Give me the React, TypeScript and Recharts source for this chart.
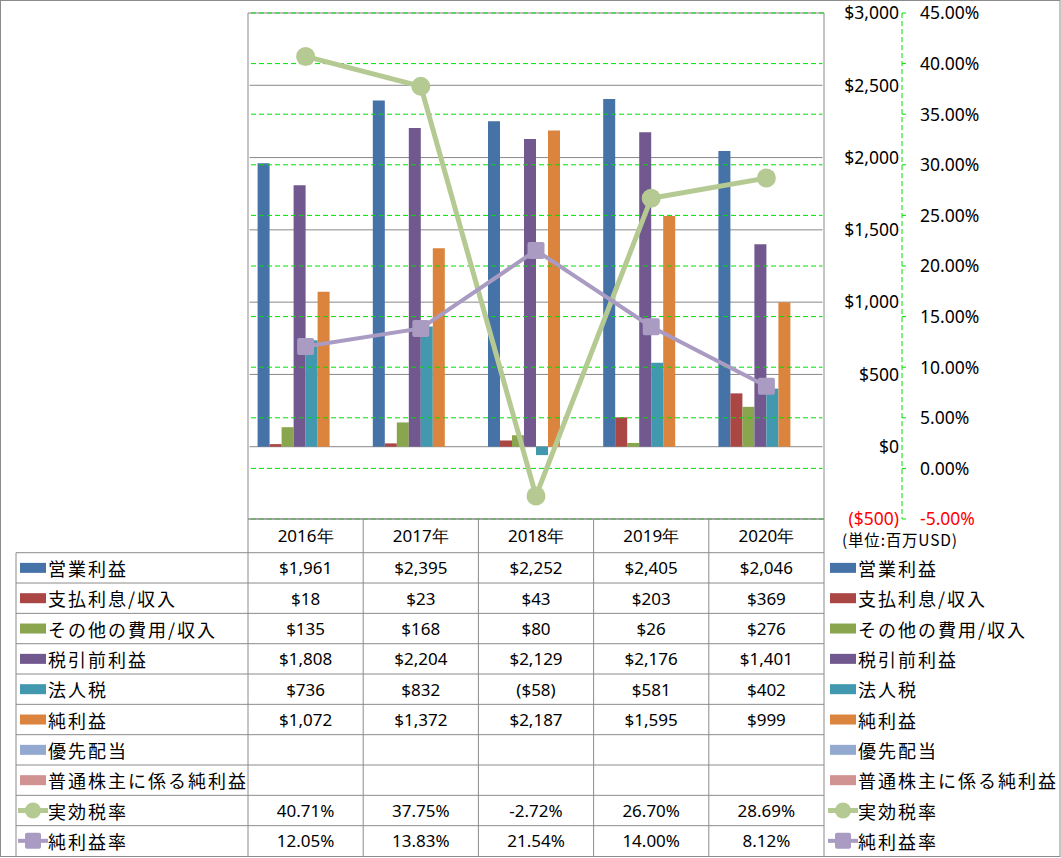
import { ComposedChart, Bar, Line, XAxis, YAxis, CartesianGrid, ReferenceLine } from 'recharts';

const YEARS = ['2016年', '2017年', '2018年', '2019年', '2020年'];
const OPERATING_INCOME = [1961, 2395, 2252, 2405, 2046];
const INTEREST = [18, 23, 43, 203, 369];
const OTHER_EXPENSE = [135, 168, 80, 26, 276];
const PRETAX_INCOME = [1808, 2204, 2129, 2176, 1401];
const INCOME_TAX = [736, 832, -58, 581, 402];
const NET_INCOME = [1072, 1372, 2187, 1595, 999];
const PREFERRED_DIV: (number | null)[] = [null, null, null, null, null];
const NET_TO_COMMON: (number | null)[] = [null, null, null, null, null];
const EFFECTIVE_TAX_RATE = [40.71, 37.75, -2.72, 26.7, 28.69];
const NET_MARGIN = [12.05, 13.83, 21.54, 14.0, 8.12];

const USD_TICKS = [-500, 0, 500, 1000, 1500, 2000, 2500, 3000];
const PCT_TICKS = [-5, 0, 5, 10, 15, 20, 25, 30, 35, 40, 45];

type Series = {
  key: string;
  name: string;
  color: string;
  kind: 'bar' | 'line';
  values: (number | null)[];
};

const SERIES: Series[] = [
  { key: 'op', name: '営業利益', color: '#4572A7', kind: 'bar', values: OPERATING_INCOME },
  { key: 'int', name: '支払利息/収入', color: '#AA4643', kind: 'bar', values: INTEREST },
  { key: 'oth', name: 'その他の費用/収入', color: '#89A54E', kind: 'bar', values: OTHER_EXPENSE },
  { key: 'pre', name: '税引前利益', color: '#71588F', kind: 'bar', values: PRETAX_INCOME },
  { key: 'tax', name: '法人税', color: '#4198AF', kind: 'bar', values: INCOME_TAX },
  { key: 'net', name: '純利益', color: '#DB843D', kind: 'bar', values: NET_INCOME },
  { key: 'pref', name: '優先配当', color: '#93A9CF', kind: 'bar', values: PREFERRED_DIV },
  { key: 'common', name: '普通株主に係る純利益', color: '#D19392', kind: 'bar', values: NET_TO_COMMON },
  { key: 'etr', name: '実効税率', color: '#B5CA92', kind: 'line', values: EFFECTIVE_TAX_RATE },
  { key: 'npm', name: '純利益率', color: '#A99BC2', kind: 'line', values: NET_MARGIN },
];

const data = YEARS.map((year, i) => {
  const row: Record<string, string | number | null> = { year };
  SERIES.forEach((s) => {
    row[s.key] = s.values[i];
  });
  return row;
});

// layout
const W = 1061;
const H = 858;
const PLOT_LEFT = 248;
const PLOT_TOP = 13;
const PLOT_WIDTH = 576;
const PLOT_BOTTOM = 519;
const USD_AXIS_W = 78;
const PCT_AXIS_W = 100;
const CHART_H = 545;
const HEADER_H = 33.7;
const ROW_H = 30.33;
const LABEL_LEFT = 16;
const GRID_GRAY = '#888888';
const GRID_GREEN = '#00E000';
const BORDER = '#8C8C8C';

const NUM_FONT = '"Noto Sans", "Open Sans", sans-serif';
const JP_FONT = '"Noto Sans CJK JP", "Noto Sans", sans-serif';

const fmtUsd = (v: number) =>
  v < 0 ? `($${Math.abs(v).toLocaleString('en-US')})` : `$${v.toLocaleString('en-US')}`;
const fmtPct = (v: number) => `${v.toFixed(2)}%`;

function UsdTick(props: any) {
  const { x, y, payload } = props;
  const v = payload.value as number;
  return (
    <text
      x={x + USD_AXIS_W - 3}
      y={y}
      dy="0.36em"
      textAnchor="end"
      fill={v < 0 ? '#FF0000' : '#000000'}
      style={{ fontSize: 17.5, fontFamily: NUM_FONT }}
    >
      {fmtUsd(v)}
    </text>
  );
}

function PctTick(props: any) {
  const { x, y, payload } = props;
  const v = payload.value as number;
  return (
    <text
      x={x}
      y={y}
      dy="0.36em"
      textAnchor="start"
      fill={v < 0 ? '#FF0000' : '#000000'}
      style={{ fontSize: 17.5, fontFamily: NUM_FONT }}
    >
      {fmtPct(v)}
    </text>
  );
}

function CircleDot(props: any) {
  const { cx, cy, value, index } = props;
  if (value == null || cx == null) return <g key={`c-${index}`} />;
  return <circle key={`c-${index}`} cx={cx} cy={cy} r={9.5} fill="#B5CA92" />;
}

function SquareDot(props: any) {
  const { cx, cy, value, index } = props;
  if (value == null || cx == null) return <g key={`s-${index}`} />;
  return <rect key={`s-${index}`} x={cx - 8.5} y={cy - 8.5} width={17} height={17} rx={2} fill="#A99BC2" />;
}

function LegendKey({ s, x, y }: { s: Series; x: number; y: number }) {
  if (s.kind === 'bar') {
    return <rect x={x} y={y - 5} width={26} height={10} fill={s.color} />;
  }
  return (
    <g>
      <line x1={x - 2} y1={y} x2={x + 28} y2={y} stroke={s.color} strokeWidth={s.key === 'etr' ? 5 : 4} />
      {s.key === 'etr' ? (
        <circle cx={x + 13} cy={y} r={8} fill={s.color} />
      ) : (
        <rect x={x + 5} y={y - 8} width={16} height={16} rx={2} fill={s.color} />
      )}
    </g>
  );
}

function DataTable() {
  const colW = PLOT_WIDTH / YEARS.length;
  const colX = YEARS.map((_, i) => PLOT_LEFT + i * colW);
  const tableTop = PLOT_BOTTOM;
  const bodyTop = tableTop + HEADER_H;
  const bottom = bodyTop + SERIES.length * ROW_H;
  const right = PLOT_LEFT + PLOT_WIDTH;
  const jpStyle = { fontSize: 18, fontFamily: JP_FONT, letterSpacing: '2px' };
  const numStyle = { fontSize: 17, fontFamily: NUM_FONT };

  return (
    <svg width={W} height={H} style={{ position: 'absolute', left: 0, top: 0, pointerEvents: 'none' }}>
      {/* outer chart border */}
      <rect x={0.5} y={0.5} width={W - 1.5} height={bottom} fill="none" stroke={BORDER} />
      {/* plot area side borders, cleared underneath first */}
      {[PLOT_LEFT, right].map((x) => (
        <g key={`side-${x}`}>
          <line x1={x} x2={x} y1={PLOT_TOP + 1} y2={tableTop - 1} stroke="#ffffff" strokeWidth={3} />
          <line x1={x} x2={x} y1={PLOT_TOP} y2={tableTop} stroke={BORDER} />
        </g>
      ))}
      {/* header row */}
      <line x1={PLOT_LEFT} y1={tableTop} x2={right} y2={tableTop} stroke={BORDER} />
      {/* row lines */}
      {SERIES.map((_, i) => (
        <line
          key={`h-${i}`}
          x1={LABEL_LEFT}
          x2={right}
          y1={bodyTop + i * ROW_H}
          y2={bodyTop + i * ROW_H}
          stroke={BORDER}
        />
      ))}
      <line x1={LABEL_LEFT} y1={bodyTop} x2={LABEL_LEFT} y2={bottom} stroke={BORDER} />
      {[...colX, right].map((x, i) => (
        <line key={`v-${i}`} x1={x} x2={x} y1={tableTop} y2={bottom} stroke={BORDER} />
      ))}

      {YEARS.map((y, i) => (
        <text
          key={`yr-${i}`}
          x={colX[i] + colW / 2}
          y={tableTop + HEADER_H / 2}
          textAnchor="middle"
          dominantBaseline="central"
          style={numStyle}
        >
          {y}
        </text>
      ))}

      {SERIES.map((s, r) => {
        const cy = bodyTop + r * ROW_H + ROW_H / 2;
        return (
          <g key={`row-${s.key}`}>
            <LegendKey s={s} x={20} y={cy} />
            <text x={48} y={cy} dominantBaseline="central" style={jpStyle}>
              {s.name}
            </text>
            {s.values.map((v, i) =>
              v == null ? null : (
                <text
                  key={`val-${i}`}
                  x={colX[i] + colW / 2}
                  y={cy}
                  textAnchor="middle"
                  dominantBaseline="central"
                  style={numStyle}
                >
                  {s.kind === 'line' ? fmtPct(v) : fmtUsd(v)}
                </text>
              ),
            )}
            <LegendKey s={s} x={830} y={cy} />
            <text x={858} y={cy} dominantBaseline="central" style={jpStyle}>
              {s.name}
            </text>
          </g>
        );
      })}

      <text
        x={842}
        y={tableTop + 20}
        dominantBaseline="central"
        style={{ fontSize: 15.5, fontFamily: JP_FONT, letterSpacing: '0.8px' }}
      >
        (単位:百万USD)
      </text>
    </svg>
  );
}

export default function App() {
  const bars = SERIES.filter((s) => s.kind === 'bar');
  const rightMargin = W - PLOT_LEFT - PLOT_WIDTH - USD_AXIS_W - PCT_AXIS_W;
  return (
    <div style={{ position: 'absolute', left: 0, top: 0, width: W, height: H, background: '#fff' }}>
      <div style={{ position: 'absolute', left: 0, top: 0 }}>
        <ComposedChart
          width={W}
          height={CHART_H}
          data={data}
          margin={{ top: PLOT_TOP, left: PLOT_LEFT, right: rightMargin, bottom: CHART_H - PLOT_BOTTOM }}
          barCategoryGap="8.333%"
          barGap={0}
        >
          <XAxis dataKey="year" hide />
          <YAxis
            yAxisId="b_pct"
            orientation="right"
            width={PCT_AXIS_W}
            domain={[-5, 45]}
            ticks={PCT_TICKS}
            axisLine={{ stroke: GRID_GREEN, strokeDasharray: '5 3' }}
            tickLine={{ stroke: GRID_GREEN }}
            tickSize={4}
            tickMargin={14}
            tick={<PctTick />}
            interval={0}
          />
          <YAxis
            yAxisId="a_usd"
            orientation="right"
            width={USD_AXIS_W}
            domain={[-500, 3000]}
            ticks={USD_TICKS}
            axisLine={false}
            tickLine={false}
            tickSize={0}
            tickMargin={0}
            tick={<UsdTick />}
            interval={0}
          />
          {PCT_TICKS.map((t) => (
            <ReferenceLine
              key={`pg-${t}`}
              yAxisId="b_pct"
              y={t}
              stroke={GRID_GREEN}
              strokeDasharray="5 3"
            />
          ))}
          <CartesianGrid yAxisId="a_usd" vertical={false} stroke={GRID_GRAY} />
          {bars.map((s) => (
            <Bar
              key={s.key}
              yAxisId="a_usd"
              dataKey={s.key}
              name={s.name}
              fill={s.color}
              isAnimationActive={false}
            />
          ))}
          <Line
            yAxisId="b_pct"
            dataKey="etr"
            name="実効税率"
            stroke="#B5CA92"
            strokeWidth={5}
            dot={<CircleDot />}
            activeDot={false}
            isAnimationActive={false}
          />
          <Line
            yAxisId="b_pct"
            dataKey="npm"
            name="純利益率"
            stroke="#A99BC2"
            strokeWidth={4}
            dot={<SquareDot />}
            activeDot={false}
            isAnimationActive={false}
          />
        </ComposedChart>
      </div>
      <DataTable />
    </div>
  );
}
